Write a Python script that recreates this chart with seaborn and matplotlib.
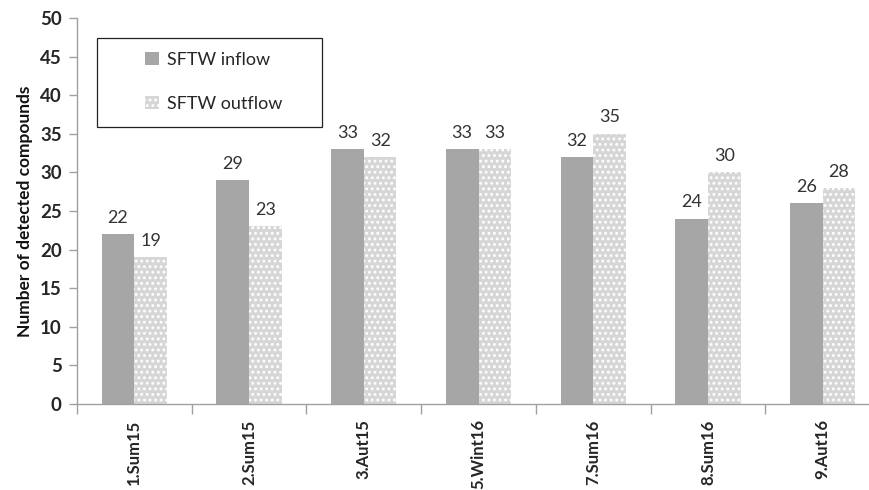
import matplotlib
matplotlib.use("Agg")
import matplotlib.pyplot as plt
from matplotlib.patches import Patch, Rectangle
import seaborn as sns
import pandas as pd

# Sampling campaigns and detected compound counts
campaigns = ["1.Sum15", "2.Sum15", "3.Aut15", "5.Wint16", "7.Sum16", "8.Sum16", "9.Aut16"]
inflow = [22, 29, 33, 33, 32, 24, 26]
outflow = [19, 23, 32, 33, 35, 30, 28]
series_names = ["SFTW inflow", "SFTW outflow"]

df = pd.DataFrame({
    "campaign": campaigns * 2,
    "count": inflow + outflow,
    "series": [series_names[0]] * len(campaigns) + [series_names[1]] * len(campaigns),
})

sns.set_theme(style="white")
plt.rcParams["font.family"] = ["Lato", "DejaVu Sans"]
plt.rcParams["hatch.linewidth"] = 1.3

inflow_color = "#a6a6a6"
outflow_color = "#d6d6d6"

fig = plt.figure(figsize=(8.69, 4.90), dpi=100)
ax = fig.add_axes([77 / 869, 86 / 490, 803 / 869, 386 / 490])

sns.barplot(data=df, x="campaign", y="count", hue="series", order=campaigns,
            hue_order=series_names, palette=[inflow_color, outflow_color],
            width=0.57, saturation=1, linewidth=0, legend=False, ax=ax)

# dotted texture on the outflow bars
for bar in ax.containers[1]:
    bar.set_hatch("...")
    bar.set_edgecolor("white")
    bar.set_linewidth(0)

for cont in ax.containers:
    ax.bar_label(cont, labels=[f"{int(v)}" for v in cont.datavalues],
                 padding=6, fontsize=13, color="#333333")

ax.set_ylim(0, 50)
ax.set_yticks(range(0, 51, 5))
ax.set_xlim(-0.5, len(campaigns) - 0.5)
ax.set_xlabel("")
ax.set_ylabel("Number of detected compounds", fontsize=12.5, fontweight="bold",
              color="#111111", labelpad=5)

for s in ["top", "right"]:
    ax.spines[s].set_visible(False)
for s in ["left", "bottom"]:
    ax.spines[s].set_color("#a0a0a0")
    ax.spines[s].set_linewidth(1)

ax.tick_params(axis="y", left=True, length=6, width=1, color="#a0a0a0",
               labelsize=13.5, pad=5)
for t in ax.get_yticklabels():
    t.set_fontweight("bold")

ax.set_xticks(range(len(campaigns)))
ax.set_xticklabels(campaigns, rotation=90, fontsize=12, fontweight="bold")
ax.tick_params(axis="x", which="major", length=0, pad=11)
ax.set_xticks([i - 0.5 for i in range(len(campaigns) + 1)], minor=True)
ax.tick_params(axis="x", which="minor", bottom=True, length=7, width=1, color="#a0a0a0")

# legend with its own box
box = Rectangle((20 / 803, (404 - 127) / 386), 225 / 803, 89 / 386,
                transform=ax.transAxes, fill=False, edgecolor="#222222",
                linewidth=0.9, zorder=5)
ax.add_patch(box)
handles = [Patch(facecolor=inflow_color, edgecolor="none"),
           Patch(facecolor=outflow_color, edgecolor="white", hatch="...", linewidth=0)]
leg = ax.legend(handles, series_names, loc="upper left",
                bbox_to_anchor=(68 / 803, (404 - 52) / 386), frameon=False,
                fontsize=13, handlelength=0.75, handleheight=0.75,
                handletextpad=0.45, labelspacing=1.55, borderpad=0, borderaxespad=0)

fig.savefig("out.png", dpi=100)
